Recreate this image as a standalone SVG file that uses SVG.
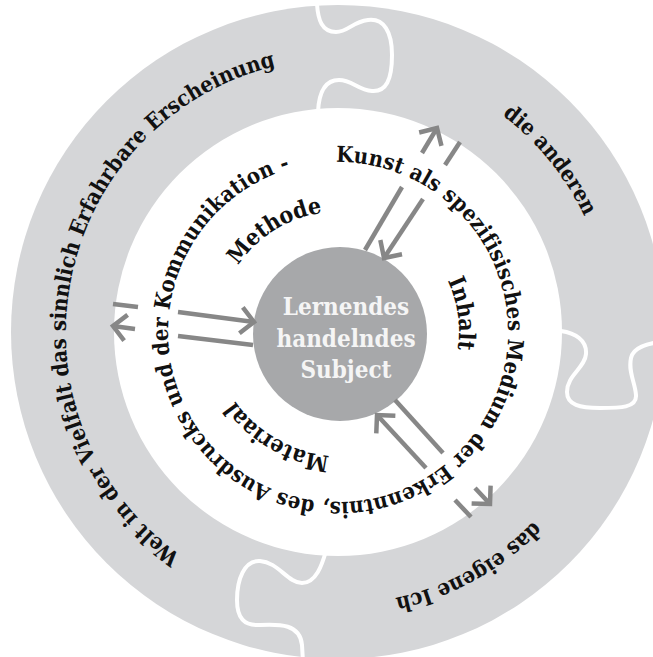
<svg xmlns="http://www.w3.org/2000/svg" width="653" height="657" viewBox="0 0 653 657">
  <style>
    .lbl { font-family: "DejaVu Serif", "Liberation Serif", serif; font-weight: bold; font-stretch: condensed; fill: #111111; }
    .ring-lbl { font-size: 22px; }
    .inner-lbl { font-size: 23px; }
    .core-lbl { font-family: "DejaVu Serif", "Liberation Serif", serif; font-weight: bold; font-stretch: condensed; font-size: 24px; fill: #f5f5f5; text-anchor: middle; }
    .seam { fill: none; stroke: #ffffff; stroke-width: 4; stroke-linecap: round; }
    .flow { fill: none; stroke: #878787; stroke-width: 4.5; stroke-linecap: butt; }
  </style>
  <defs>
    <marker id="chevron" viewBox="-16 -16 20 32" refX="0" refY="0" markerWidth="20" markerHeight="32" markerUnits="userSpaceOnUse" orient="auto">
      <path d="M-13,-13 L0,0 L-13,13" fill="none" stroke="#878787" stroke-width="4.5"/>
    </marker>
    <!-- clockwise circular baselines, each starting opposite the label's centre -->
    <path id="p-welt" d="M605.0,383.9 A272,272 0 1 1 71.0,280.1 A272,272 0 1 1 605.0,383.9"/>
    <path id="p-andere" d="M126.6,503.2 A272,272 0 1 1 549.4,160.8 A272,272 0 1 1 126.6,503.2"/>
    <path id="p-ich" d="M206.1,94.1 A272,272 0 1 1 469.9,569.9 A272,272 0 1 1 206.1,94.1"/>
    <path id="p-kunst" d="M336.0,162.0 A170,170 0 1 1 340.0,502.0 A170,170 0 1 1 336.0,162.0"/>
    <path id="p-methode" d="M401.6,433.8 A120,120 0 1 1 274.4,230.2 A120,120 0 1 1 401.6,433.8"/>
    <path id="p-inhalt" d="M218.3,349.7 A121,121 0 1 1 457.7,314.3 A121,121 0 1 1 218.3,349.7"/>
    <path id="p-material" d="M399.5,225.5 A123,123 0 1 1 276.5,438.5 A123,123 0 1 1 399.5,225.5"/>
  </defs>

  <rect width="653" height="657" fill="#ffffff"/>

  <!-- outer puzzle ring -->
  <g id="outer-ring">
    <circle cx="338" cy="332" r="327" fill="#d5d6d8"/>
    <circle cx="338" cy="332" r="224" fill="#ffffff"/>
    <path class="seam" d="M317,4 C318,20 322,32 336,32 C348,32 352,22 368,20 C384,18 392,32 392,55 C392,80 386,92 372,91 C358,90 352,80 339,80 C326,80 319,90 318,112"/>
    <path class="seam" d="M561,331 C575,333 587,340 586,354 C585,368 567,375 567,392 C567,405 580,408 600,408 C620,408 637,408 636,395 C635,382 628,372 631,358 C633,348 645,343 668,341"/>
    <path class="seam" d="M326,551 C322,565 316,583 302,583 C288,583 278,562 260,561 C244,560 237,580 237,600 C237,618 244,626 260,625 C280,624 300,624 302,645 L303,662"/>
  </g>

  <g id="welt">
    <text class="lbl ring-lbl"><textPath href="#p-welt" startOffset="50%" text-anchor="middle">Welt in der Vielfalt das sinnlich Erfahrbare Erscheinung</textPath></text>
  </g>
  <g id="die-anderen">
    <text class="lbl ring-lbl"><textPath href="#p-andere" startOffset="50%" text-anchor="middle">die anderen</textPath></text>
  </g>
  <g id="das-eigene-ich">
    <text class="lbl ring-lbl"><textPath href="#p-ich" startOffset="50%" text-anchor="middle">das eigene Ich</textPath></text>
  </g>

  <g id="kunst">
    <text class="lbl ring-lbl" letter-spacing="0.2"><textPath href="#p-kunst" startOffset="0">Kunst als spezifisisches Medium der Erkenntnis, des Ausdrucks und der Kommunikation -</textPath></text>
  </g>
  <g id="methode">
    <text class="lbl inner-lbl"><textPath href="#p-methode" startOffset="50%" text-anchor="middle">Methode</textPath></text>
  </g>
  <g id="inhalt">
    <text class="lbl inner-lbl"><textPath href="#p-inhalt" startOffset="50%" text-anchor="middle">Inhalt</textPath></text>
  </g>
  <g id="materiaal">
    <text class="lbl inner-lbl"><textPath href="#p-material" startOffset="50%" text-anchor="middle">Materiaal</textPath></text>
  </g>

  <!-- central subject -->
  <g id="subject">
    <circle cx="340" cy="334" r="87" fill="#a7a8aa"/>
    <text class="core-lbl" x="346" y="315">Lernendes</text>
    <text class="core-lbl" x="346" y="347">handelndes</text>
    <text class="core-lbl" x="346" y="378">Subject</text>
  </g>

  <!-- exchange arrows, broken where they pass under the ring text -->
  <g id="connectors" class="flow">
    <line x1="113" y1="304" x2="138" y2="307"/>
    <line x1="178" y1="312" x2="254" y2="322" marker-end="url(#chevron)"/>
    <line x1="253" y1="345" x2="178" y2="336"/>
    <line x1="135" y1="329" x2="113" y2="326" marker-end="url(#chevron)"/>

    <line x1="365" y1="250" x2="402" y2="187"/>
    <line x1="422" y1="153" x2="437" y2="128" marker-end="url(#chevron)"/>
    <line x1="460" y1="142" x2="445" y2="165"/>
    <line x1="423" y1="199" x2="384" y2="258" marker-end="url(#chevron)"/>

    <line x1="395" y1="400" x2="443" y2="453"/>
    <line x1="475" y1="488" x2="490" y2="504" marker-end="url(#chevron)"/>
    <line x1="471" y1="517" x2="455" y2="500"/>
    <line x1="426" y1="468" x2="377" y2="415" marker-end="url(#chevron)"/>
  </g>
</svg>
